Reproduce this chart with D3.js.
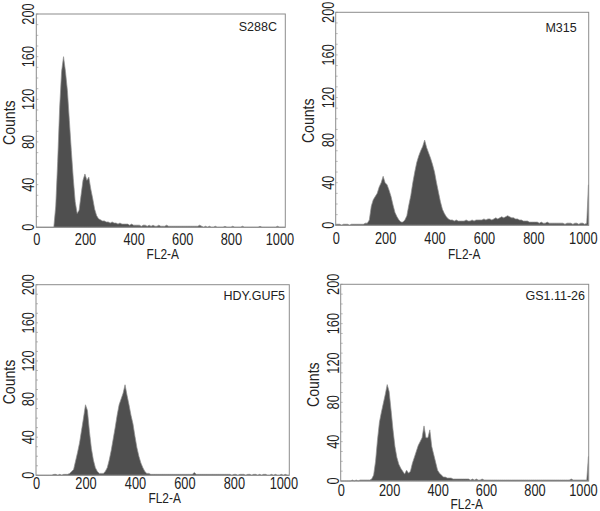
<!DOCTYPE html>
<html><head><meta charset="utf-8">
<script src="https://cdn.jsdelivr.net/npm/d3@7/dist/d3.min.js"></script>
<style>html,body{margin:0;padding:0;background:#fff}svg{display:block}</style>
</head><body>
<script>
// ---- data (counts per 8-channel step, last value = channel 1023) ----
const samples = ["S288C", "M315", "HDY.GUF5", "GS1.11-26"];
const xTicks = [0, 200, 400, 600, 800, 1000];
const yTicks = [0, 40, 80, 120, 160, 200];
const channels = d3.range(0, 1024, 8).concat([1023]);

const countsS288C = [
  0,0,0,0,0,0,0,0,0,0,20,62,112,146,160,146,
  128,100,72,46,24,13,16,30,44,50,44,47,36,27,17,11,
  8,7,6,6,5,5,4,5,4,4,3,4,3,3,3,3,
  2,3,2,2,2,2,1,2,2,1,2,1,2,1,1,2,
  1,1,1,2,1,1,1,1,1,1,1,1,1,1,1,1,
  1,1,1,1,2,1,0,1,0,1,0,0,1,0,0,0,
  0,1,0,0,0,1,0,0,0,0,1,0,0,0,0,0,
  0,0,0,1,0,0,0,0,0,0,0,0,1,0,0,0,
  0];
const countsM315 = [
  1,1,1,0,1,1,1,0,1,1,1,1,1,1,1,2,
  2,5,18,24,27,30,36,40,46,40,38,33,27,19,12,8,
  5,3,3,5,9,19,28,40,50,59,65,70,74,80,73,68,
  63,57,50,40,31,22,15,11,8,6,5,5,4,5,4,4,
  4,4,5,4,4,5,4,5,5,5,5,6,5,6,6,5,
  6,7,6,7,8,7,8,9,8,7,7,6,6,5,5,4,
  4,4,3,3,3,3,3,2,3,2,2,3,2,2,2,2,
  2,2,2,2,1,2,2,2,1,2,2,1,2,2,1,2,
  38];
const countsHDY = [
  0,0,0,0,0,0,0,0,0,1,1,0,1,0,1,1,
  1,2,4,6,15,24,34,47,60,74,68,46,28,16,8,4,
  2,2,2,4,8,16,26,38,50,63,74,80,86,95,84,74,
  63,54,41,29,20,13,8,4,2,2,1,1,1,1,1,1,
  1,1,1,1,1,1,1,1,1,1,1,1,1,1,1,1,
  3,1,1,1,1,1,1,1,1,1,1,1,1,1,1,1,
  1,1,1,0,1,1,0,1,1,1,0,1,1,0,1,1,
  0,1,0,1,1,0,0,1,0,1,0,0,1,0,1,0,
  0];
const countsGS = [
  0,0,0,0,0,0,1,0,1,0,1,1,1,1,1,1,
  2,6,20,42,60,70,79,88,98,91,72,52,35,24,17,13,
  10,7,11,8,10,18,24,30,36,40,44,56,44,44,52,35,
  27,19,11,8,6,4,4,3,3,3,2,2,2,2,2,2,
  2,2,2,1,2,1,2,1,1,2,1,1,1,1,1,1,
  1,1,1,1,1,1,1,1,1,1,1,1,1,1,1,1,
  1,1,1,1,1,1,1,1,1,1,1,1,1,1,1,1,
  1,1,1,1,1,1,1,2,1,1,1,1,1,1,1,1,
  25];
const seriesCounts = [countsS288C, countsM315, countsHDY, countsGS];

// ---- layout ----
const panels = [
  {l:36.3, t:14,   r:285.3, b:227.3, tickDy:18,   labY:259,   titleX:277, titleY:31},
  {l:335.7,t:12.3, r:588.7, b:225.3, tickDy:18.5, labY:258.5, titleX:576.7, titleY:31.5},
  {l:36,   t:284.7,r:289.3, b:475.3, tickDy:13.5, labY:502.5, titleX:285, titleY:300},
  {l:340.7,t:284.3,r:588.7, b:481,   tickDy:15.5, labY:509,   titleX:585, titleY:300}
];

const svg = d3.select("body").append("svg").attr("width",600).attr("height",511);
svg.append("rect").attr("width",600).attr("height",511).attr("fill","#fff");
const FONT = "'Liberation Sans', Arial, Helvetica, sans-serif";

panels.forEach((p, k) => {
  const x = d3.scaleLinear().domain([0, 1024]).range([p.l, p.r]);
  const y = d3.scaleLinear().domain([0, 200]).range([p.b, p.t]);
  const g = svg.append("g");
  const data = channels.map((c, i) => [c, seriesCounts[k][i]]);

  // histogram area
  const area = d3.area().x(d => x(d[0])).y0(y(0)).y1(d => y(d[1])).curve(d3.curveLinear);
  g.append("path").datum(data).attr("d", area)
    .attr("fill", "#4f4f4f").attr("stroke", "#8f8f8f").attr("stroke-width", 0.7)
    .attr("stroke-linejoin","round");

  // minor y ticks inside
  g.append("g").selectAll("line").data(d3.range(0, 201, 10)).join("line")
    .attr("x1", p.l).attr("x2", p.l + 2).attr("y1", d => y(d)).attr("y2", d => y(d))
    .attr("stroke", "#aaa").attr("stroke-width", 0.8);

  // frame
  g.append("rect").attr("x", p.l).attr("y", p.t).attr("width", p.r - p.l).attr("height", p.b - p.t)
    .attr("fill", "none").attr("stroke", "#8c8c8c").attr("stroke-width", 1);

  // x axis
  const xa = g.append("g").attr("transform", `translate(0,${p.b})`)
    .call(d3.axisBottom(x).tickValues(xTicks).tickFormat(d3.format("d")).tickSize(0).tickPadding(0));
  xa.select(".domain").remove();
  xa.selectAll("text").attr("y", p.tickDy).attr("dy", 0)
    .attr("font-family", FONT).attr("font-size", 16).attr("fill", "#222")
    .attr("transform", "scale(0.8,1)");

  // y tick labels (rotated)
  g.append("g").selectAll("text").data(yTicks).join("text")
    .attr("transform", d => `translate(${p.l - 2},${y(d)}) rotate(-90) scale(0.8,1)`)
    .attr("text-anchor", "middle").attr("font-family", FONT).attr("font-size", 16).attr("fill", "#222")
    .text(d => d);

  // axis titles
  g.append("text").attr("transform", `translate(${p.l - 21.5},${(p.t + p.b) / 2 + 2}) rotate(-90) scale(0.88,1)`)
    .attr("text-anchor", "middle").attr("font-family", FONT).attr("font-size", 16).attr("fill", "#222")
    .text("Counts");
  g.append("text").attr("transform", `translate(${(p.l + p.r) / 2 + 2},${p.labY}) scale(0.85,1)`)
    .attr("text-anchor", "middle").attr("font-family", FONT).attr("font-size", 14).attr("fill", "#222")
    .text("FL2-A");

  // sample name
  g.append("text").attr("x", p.titleX).attr("y", p.titleY).attr("text-anchor", "end")
    .attr("font-family", FONT).attr("font-size", 12.5).attr("fill", "#222").text(samples[k]);
});
</script>
</body></html>
